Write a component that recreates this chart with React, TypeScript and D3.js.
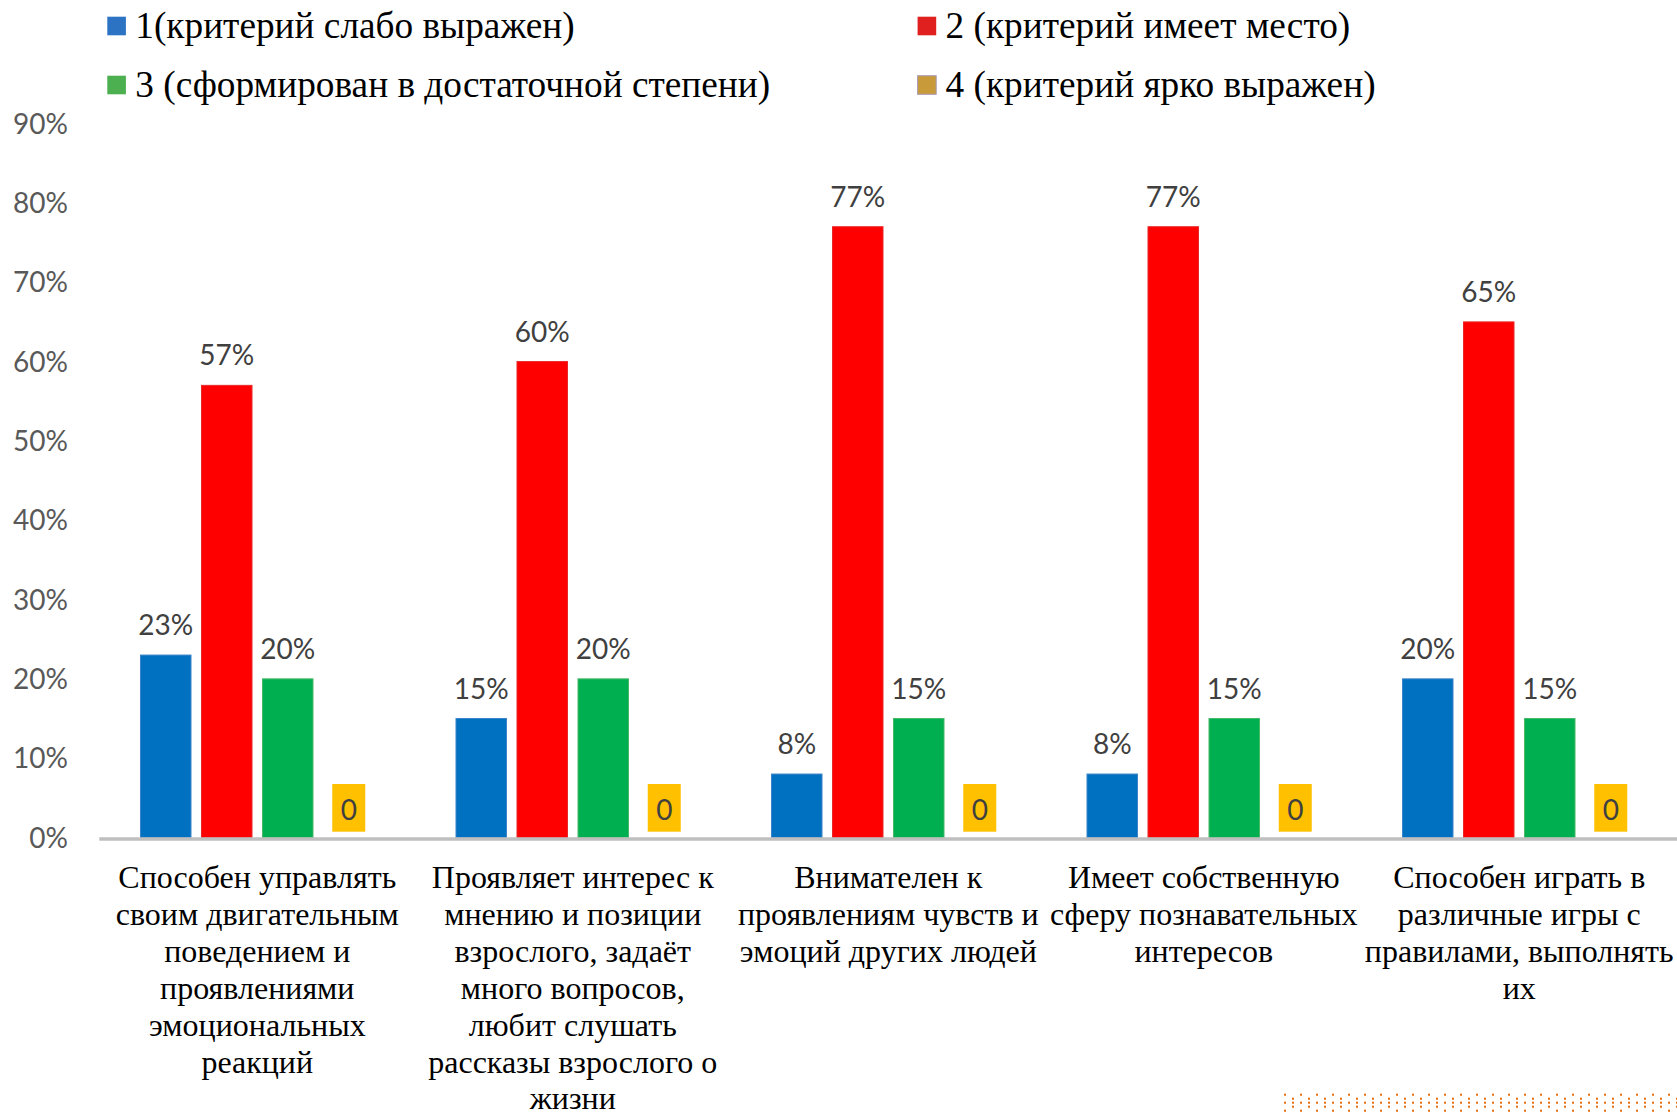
import React from 'react';
import * as d3 from 'd3';

// category labels, already broken into lines as in the source slide
const categories: string[][] = [
  ['Способен управлять', 'своим двигательным', 'поведением и', 'проявлениями', 'эмоциональных', 'реакций'],
  ['Проявляет интерес к', 'мнению и позиции', 'взрослого, задаёт', 'много вопросов,', 'любит слушать', 'рассказы взрослого о', 'жизни'],
  ['Внимателен к', 'проявлениям чувств и', 'эмоций других людей'],
  ['Имеет собственную', 'сферу познавательных', 'интересов'],
  ['Способен играть в', 'различные игры с', 'правилами, выполнять', 'их'],
];

const seriesNames = [
  '1(критерий слабо выражен)',
  '2 (критерий имеет место)',
  '3 (сформирован в достаточной степени)',
  '4 (критерий ярко выражен)',
];

const level1 = [0.23, 0.15, 0.08, 0.08, 0.2];
const level2 = [0.57, 0.6, 0.77, 0.77, 0.65];
const level3 = [0.2, 0.2, 0.15, 0.15, 0.15];
const level4 = [0, 0, 0, 0, 0];

const yTicks = [0, 0.1, 0.2, 0.3, 0.4, 0.5, 0.6, 0.7, 0.8, 0.9];

const barFill = ['#0070C0', '#FF0000', '#00B050', '#FFC000'];
const barEdge = ['#3C84C8', '#E82828', '#48B868', '#FFC000'];
const legendFill = ['#2C73C4', '#E0201F', '#4CB050', '#C99A3A'];

const W = 1677;
const H = 1112;
const serif = '"Liberation Serif", "Times New Roman", serif';
const sans = 'Lato, "Open Sans", sans-serif';

const App: React.FC = () => {
  const values = [level1, level2, level3, level4];
  const idx = categories.map((_, i) => i);

  const x0 = d3.scaleBand<number>().domain(idx).range([99.5, W]);
  const x1 = d3
    .scaleBand<number>()
    .domain([0, 1, 2, 3])
    .range([0, x0.bandwidth()])
    .paddingInner(0.172)
    .paddingOuter(0.672);
  const y = d3.scaleLinear().domain([0, 0.9]).range([837.5, 123.6]);
  const pct = d3.format('.0%');

  // decorative orange dots in the bottom-right corner
  const dots: { x: number; y: number }[] = [];
  const dotRows = [1094.7, 1098.7, 1102.7, 1106.7, 1110.7];
  dotRows.forEach((ry, r) => {
    for (let dx = 1284; dx < W; dx += 8) {
      const k = Math.round((dx - 1284) / 8);
      const even = k % 2 === 0;
      if (r % 2 === 0 ? even || r === 2 : !even) dots.push({ x: dx, y: ry });
    }
  });

  return (
    <svg width={W} height={H} style={{ position: 'absolute', left: 0, top: 0, background: '#fff' }}>
      {/* legend */}
      {seriesNames.map((name, i) => {
        const col = i % 2;
        const row = Math.floor(i / 2);
        const mx = col === 0 ? 107.3 : 917.6;
        const my = row === 0 ? 16.7 : 75.7;
        return (
          <g key={name}>
            <rect x={mx} y={my} width={18.6} height={18.6} fill={legendFill[i]}
              stroke={i === 3 ? '#A89AB8' : 'none'} strokeWidth={1} />
            <text x={mx + 28} y={my + 21} fontFamily={serif} fontSize={37.3} fill="#000">
              {name}
            </text>
          </g>
        );
      })}

      {/* y axis labels */}
      {yTicks.map((t) => (
        <text key={t} x={68} y={y(t)} dy="0.36em" textAnchor="end" fontFamily={sans}
          fontSize={28} fill="#595959">
          {pct(t)}
        </text>
      ))}

      {/* bars */}
      {idx.map((c) => (
        <g key={c} transform={`translate(${x0(c)},0)`}>
          {values.map((s, si) => {
            const v = s[c];
            const bx = x1(si)!;
            const cx = bx + x1.bandwidth() / 2;
            if (v === 0) {
              return (
                <g key={si}>
                  <rect x={cx - 16.5} y={y(0) - 53.5} width={33} height={47.7} fill="#FFC000" />
                  <text x={cx} y={y(0) - 17.5} textAnchor="middle" fontFamily={sans}
                    fontSize={28} fill="#404040">0</text>
                </g>
              );
            }
            return (
              <g key={si}>
                <rect x={bx} y={y(v)} width={x1.bandwidth()} height={y(0) - y(v)}
                  fill={barFill[si]} stroke={barEdge[si]} strokeWidth={1} />
                <text x={cx} y={y(v) - 20} textAnchor="middle" fontFamily={sans}
                  fontSize={28} fill="#404040">{pct(v)}</text>
              </g>
            );
          })}
        </g>
      ))}

      {/* x axis line */}
      <line x1={99.3} x2={W} y1={839} y2={839} stroke="#BFBFBF" strokeWidth={3.5} />

      {/* category labels */}
      {idx.map((c) => (
        <text key={c} x={x0(c)! + x0.bandwidth() / 2} y={888} textAnchor="middle"
          fontFamily={serif} fontSize={32} fill="#000">
          {categories[c].map((line, li) => (
            <tspan key={li} x={x0(c)! + x0.bandwidth() / 2} dy={li === 0 ? 0 : 36.9}>{line}</tspan>
          ))}
        </text>
      ))}

      {dots.map((d, i) => (
        <rect key={i} x={d.x} y={d.y - 1} width={2} height={2} fill="#E46C0A" />
      ))}
    </svg>
  );
};

export default App;
